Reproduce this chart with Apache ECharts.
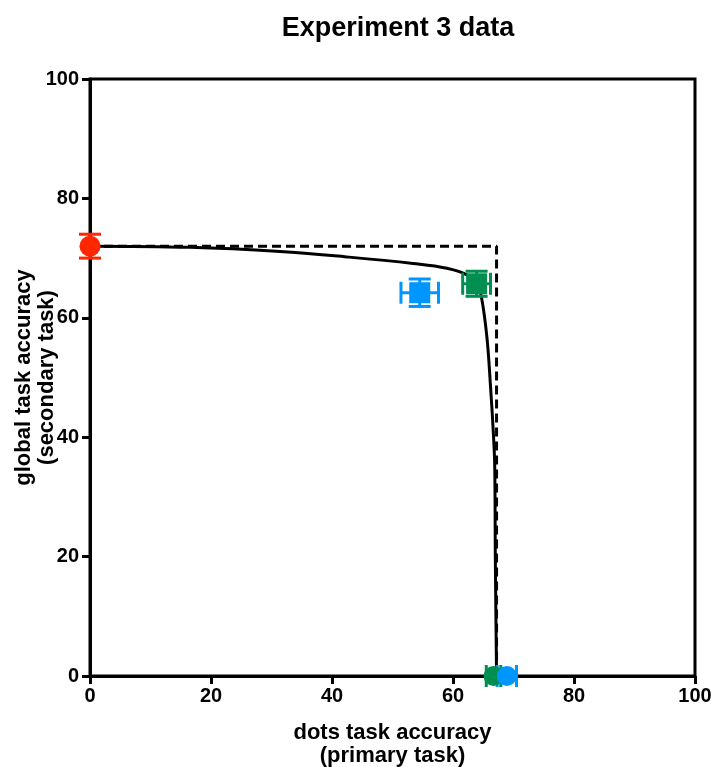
<!DOCTYPE html>
<html>
<head>
<meta charset="utf-8">
<script src="https://cdn.jsdelivr.net/npm/echarts@6/dist/echarts.min.js"></script>
<style>html,body{margin:0;padding:0;background:#fff;}#chart{width:714px;height:767px;}</style>
</head>
<body>
<div id="chart"></div>
<script>
// ---- data ----
const xTicks = [0, 20, 40, 60, 80, 100];
const yTicks = [0, 20, 40, 60, 80, 100];
const pointX    = [0,    54.5, 63.9, 66.7, 68.9];
const pointY    = [72,   64.2, 65.7, 0,    0];
const pointXErr = [0,    3.1,  2.3,  1.2,  1.6];
const pointYErr = [2.0,  2.3,  2.1,  0,    0];
const curveX = [0, 16.5, 31.4, 42.4, 53.4, 59, 62.3, 64, 64.7, 65.6, 66.2, 66.7, 66.9, 67.0, 67.2];
const curveY = [72, 71.8, 71.1, 70.2, 69.1, 68.3, 67.2, 65.5, 63.5, 56.8, 48.5, 40.1, 35, 19.4, 0];
const boundX = [0, 67.2, 67.2];
const boundY = [72, 72, 0];

// ---- styles ----
const pointColor  = ['#FF2600', '#0096FF', '#008F51', '#008F51', '#0096FF'];
const pointSymbol = ['circle', 'rect', 'rect', 'circle', 'circle'];
const pointSize   = [21, 21, 21, 20, 20];
const FONT = '"Liberation Sans", Arial, sans-serif';

const chart = echarts.init(document.getElementById('chart'));

function errRender(params, api) {
  const i = params.dataIndex;
  const x = api.value(0), y = api.value(1), xe = api.value(2), ye = api.value(3);
  const col = pointColor[i];
  const children = [];
  const st = { stroke: col, lineWidth: 3 };
  const cap = 11;
  if (xe > 0) {
    const l = api.coord([x - xe, y]), r = api.coord([x + xe, y]);
    children.push({ type: 'line', shape: { x1: l[0], y1: l[1], x2: r[0], y2: r[1] }, style: st });
    children.push({ type: 'line', shape: { x1: l[0], y1: l[1] - cap, x2: l[0], y2: l[1] + cap }, style: st });
    children.push({ type: 'line', shape: { x1: r[0], y1: r[1] - cap, x2: r[0], y2: r[1] + cap }, style: st });
  }
  if (ye > 0) {
    const t = api.coord([x, y + ye]), b = api.coord([x, y - ye]);
    children.push({ type: 'line', shape: { x1: t[0], y1: t[1], x2: b[0], y2: b[1] }, style: st });
    children.push({ type: 'line', shape: { x1: t[0] - cap, y1: t[1], x2: t[0] + cap, y2: t[1] }, style: st });
    children.push({ type: 'line', shape: { x1: b[0] - cap, y1: b[1], x2: b[0] + cap, y2: b[1] }, style: st });
  }
  return { type: 'group', children };
}

const series = [
  {
    type: 'line', data: boundX.map((v, i) => [v, boundY[i]]), symbol: 'none',
    lineStyle: { color: '#000', width: 3, type: [9, 5] }, z: 2, silent: true
  },
  {
    type: 'line', data: curveX.map((v, i) => [v, curveY[i]]), symbol: 'none', smooth: 0.4,
    lineStyle: { color: '#000', width: 3 }, z: 3, silent: true
  },
  {
    type: 'custom', renderItem: errRender, clip: false, z: 4,
    data: pointX.map((v, i) => [v, pointY[i], pointXErr[i], pointYErr[i]])
  }
];
pointX.forEach((v, i) => {
  series.push({
    type: 'scatter', data: [[v, pointY[i]]], symbol: pointSymbol[i], symbolSize: pointSize[i],
    itemStyle: { color: pointColor[i], opacity: 1 }, clip: false, z: 5 + i
  });
});

const axisCommon = {
  type: 'value', min: 0, max: 100, interval: 20,
  splitLine: { show: false },
  nameMoveOverlap: false,
  axisLine: { show: true, onZero: false, lineStyle: { color: '#000', width: 3 } },
  axisTick: { show: true, inside: false, length: 8, lineStyle: { color: '#000', width: 3 } },
  nameTextStyle: { fontFamily: FONT, fontWeight: 'bold', fontSize: 22, color: '#000', lineHeight: 23 },
  axisLabel: { fontFamily: FONT, fontWeight: 'bold', fontSize: 20, color: '#000' }
};

chart.setOption({
  animation: false,
  backgroundColor: '#fff',
  title: {
    text: 'Experiment 3 data', left: 393, top: 10, textAlign: 'center',
    textStyle: { fontFamily: FONT, fontWeight: 'bold', fontSize: 27, color: '#000' }
  },
  grid: { left: 90, right: 19, top: 79, bottom: 91, show: true, borderColor: '#000', borderWidth: 3,
          containLabel: false, outerBoundsMode: 'none' },
  xAxis: Object.assign({}, axisCommon, {
    name: 'dots task accuracy\n(primary task)', nameLocation: 'middle', nameGap: 45,
    axisLabel: Object.assign({}, axisCommon.axisLabel, { margin: 10 })
  }),
  yAxis: Object.assign({}, axisCommon, {
    name: 'global task accuracy\n(secondary task)', nameLocation: 'middle', nameGap: 32,
    axisLabel: Object.assign({}, axisCommon.axisLabel, { margin: 11 })
  }),
  series
});
</script>
</body>
</html>
